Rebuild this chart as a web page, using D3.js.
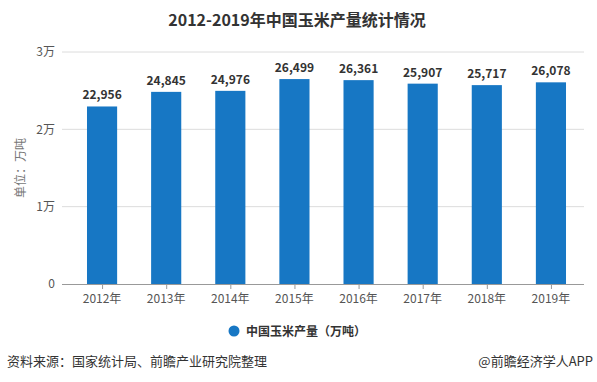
<!DOCTYPE html>
<html><head><meta charset="utf-8">
<script src="https://cdn.jsdelivr.net/npm/d3@7"></script>
<style>body{margin:0;background:#fff;}svg{display:block;font-family:"Noto Sans CJK SC","Microsoft YaHei",sans-serif;}</style>
</head><body>
<svg id="c" width="597" height="382"></svg>
<script>
const years = ["2012年","2013年","2014年","2015年","2016年","2017年","2018年","2019年"];
const production = [22956,24845,24976,26499,26361,25907,25717,26078];
const yTicks = [0,10000,20000,30000];
const yTickLabels = ["0","1万","2万","3万"];
const titleText = "2012-2019年中国玉米产量统计情况";
const yTitle = "单位：万吨";
const legendText = "中国玉米产量（万吨）";
const sourceText = "资料来源：国家统计局、前瞻产业研究院整理";
const creditText = "@前瞻经济学人APP";

const svg = d3.select("#c");
const barColor = "#1777c4";
const x = d3.scaleBand().domain(years).range([70,583]).paddingInner(0.53).paddingOuter(0.265);
const y = d3.scaleLinear().domain([0,30000]).range([284,52]);
const gridL = 62, gridR = 584;

svg.append("text").attr("x",297).attr("y",26).attr("text-anchor","middle")
  .attr("font-size",16).attr("font-weight","bold").attr("fill","#333").text(titleText);

// gridlines
svg.append("g").selectAll("line").data(yTicks.filter(d=>d>0)).join("line")
  .attr("x1",gridL).attr("x2",gridR).attr("y1",d=>y(d)).attr("y2",d=>y(d))
  .attr("stroke","#dcdcdc").attr("stroke-width",1);

// y labels
svg.append("g").selectAll("text").data(yTicks).join("text")
  .attr("x",55).attr("y",d=>y(d)).attr("dy","0.35em").attr("text-anchor","end")
  .attr("font-size",12).attr("fill","#555").text((d,i)=>yTickLabels[i]);

svg.append("text").attr("transform","translate(25,168) rotate(-90)").attr("text-anchor","middle")
  .attr("font-size",12).attr("fill","#777").text(yTitle);

// bars
svg.append("g").selectAll("rect").data(production).join("rect")
  .attr("x",(d,i)=>x(years[i])).attr("width",x.bandwidth())
  .attr("y",d=>y(d)).attr("height",d=>y(0)-y(d)).attr("fill",barColor);

// value labels
const fmt = d3.format(",");
svg.append("g").selectAll("text").data(production).join("text")
  .attr("x",(d,i)=>x(years[i])+x.bandwidth()/2).attr("y",d=>y(d)-7)
  .attr("text-anchor","middle").attr("font-size",12).attr("font-weight","bold")
  .attr("fill","#333").text(d=>fmt(d));

// x axis
svg.append("line").attr("x1",gridL).attr("x2",gridR).attr("y1",y(0)+0.5).attr("y2",y(0)+0.5)
  .attr("stroke","#999");
const xg = svg.append("g");
xg.selectAll("line").data(years).join("line")
  .attr("x1",d=>x(d)+x.bandwidth()/2+0.5).attr("x2",d=>x(d)+x.bandwidth()/2+0.5)
  .attr("y1",y(0)).attr("y2",y(0)+5).attr("stroke","#999");
xg.selectAll("text").data(years).join("text")
  .attr("x",d=>x(d)+x.bandwidth()/2).attr("y",303).attr("text-anchor","middle")
  .attr("font-size",12).attr("fill","#555").text(d=>d);

// legend
svg.append("circle").attr("cx",234).attr("cy",331).attr("r",5.5).attr("fill",barColor);
svg.append("text").attr("x",246).attr("y",335.5).attr("font-size",12).attr("font-weight","bold")
  .attr("fill","#333").text(legendText);

// footer
svg.append("text").attr("x",7).attr("y",366).attr("font-size",13).attr("fill","#333").text(sourceText);
svg.append("text").attr("x",593).attr("y",366).attr("text-anchor","end").attr("font-size",13).attr("fill","#333").text(creditText);
</script>
</body></html>
